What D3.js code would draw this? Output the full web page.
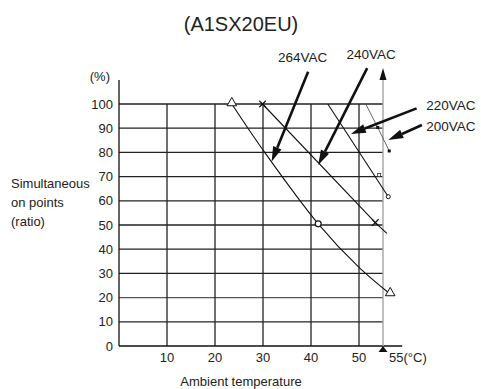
<!DOCTYPE html>
<html lang="en">
<head>
<meta charset="UTF-8">
<title>A1SX20EU derating</title>
<script src="https://d3js.org/d3.v7.min.js"></script>
<style>
  body { margin: 0; background: #fff; }
  svg text { font-family: "Liberation Sans", Arial, sans-serif; fill: #222; }
</style>
</head>
<body>
<svg id="chart" width="481" height="389"></svg>
<script>
// ---- data ----
const yTicks = [0, 10, 20, 30, 40, 50, 60, 70, 80, 90, 100];
const xTicks = [10, 20, 30, 40, 50];
const xEndLabel = "55(°C)";

// temperature (°C), ratio (%)
const v264 = [[23.5, 100], [30, 81], [41.5, 50.5], [50, 32.5], [56.5, 21.5]];
const v240 = [[29.9, 100], [53.4, 51], [55.8, 46.5]];
const v220 = [[43.5, 100], [56.1, 61.7]];
const v200 = [[51.4, 100], [53.9, 90.3], [56.3, 80.6]];
const extraMarks = [[54.2, 70.7]];

// call-outs: label, label pos, arrow start, arrow tip (data units)
const callouts = [
  { label: "264VAC", at: [33.1, 117.4], from: [39.4, 113.3], to: [31.8, 76.2] },
  { label: "240VAC", at: [47.4, 118.6], from: [51.7, 114.8], to: [41.5, 74.8] },
  { label: "220VAC", at: [64.0, 97.5], from: [62.0, 98.2], to: [48.3, 87.6] },
  { label: "200VAC", at: [64.0, 88.8], from: [63.1, 91.3], to: [56.1, 85.1] }
];

const svg = d3.select("#chart");
const x = d3.scaleLinear().domain([0, 55]).range([119, 383]);
const y = d3.scaleLinear().domain([0, 100]).range([346, 104]);

// title
svg.append("text").attr("x", 241).attr("y", 31).attr("text-anchor", "middle")
  .style("font-size", "20px").text("(A1SX20EU)");

// grid
svg.append("g").selectAll("line").data(yTicks.filter(d => d > 0)).join("line")
  .attr("x1", x(0)).attr("x2", x(55)).attr("y1", d => y(d)).attr("y2", d => y(d))
  .attr("stroke", d => d === 20 ? "#555" : "#222").attr("stroke-width", 1.3);
svg.append("g").selectAll("line").data(xTicks).join("line")
  .attr("x1", d => x(d)).attr("x2", d => x(d)).attr("y1", y(100)).attr("y2", y(0))
  .attr("stroke", "#222").attr("stroke-width", 1.3);

// axes
svg.append("line").attr("x1", x(0)).attr("x2", x(0)).attr("y1", 80).attr("y2", y(0))
  .attr("stroke", "#111").attr("stroke-width", 1.3);
svg.append("line").attr("x1", x(0)).attr("x2", x(59)).attr("y1", y(0)).attr("y2", y(0))
  .attr("stroke", "#111").attr("stroke-width", 1.3);
// 55 °C limit line with arrow
svg.append("line").attr("x1", x(55)).attr("x2", x(55)).attr("y1", 78).attr("y2", y(0))
  .attr("stroke", "#aaa").attr("stroke-width", 1.5);
svg.append("path")
  .attr("d", `M${x(55)},68 L${x(55) + 3.5},80 L${x(55) - 3.5},80 Z`).attr("fill", "#111");
svg.append("path")
  .attr("d", `M${x(55)},${y(0)} L${x(55) + 4.5},${y(0) + 6} L${x(55) - 4.5},${y(0) + 6} Z`).attr("fill", "#111");

// tick labels
svg.append("g").selectAll("text").data(yTicks).join("text")
  .attr("x", 113).attr("y", d => y(d)).attr("dy", "0.35em").attr("text-anchor", "end")
  .style("font-size", "13px").text(d => d);
svg.append("g").selectAll("text").data(xTicks).join("text")
  .attr("x", d => x(d)).attr("y", 362).attr("text-anchor", "middle")
  .style("font-size", "13px").text(d => d);
svg.append("text").attr("x", x(55) + 6).attr("y", 362)
  .style("font-size", "13px").text(xEndLabel);
svg.append("text").attr("x", 110).attr("y", 81).attr("text-anchor", "end")
  .style("font-size", "13px").text("(%)");
svg.append("text").attr("x", 241).attr("y", 386).attr("text-anchor", "middle")
  .style("font-size", "13px").text("Ambient temperature");
svg.append("text").style("font-size", "13px").selectAll("tspan")
  .data(["Simultaneous", "on points", "(ratio)"]).join("tspan")
  .attr("x", 11).attr("y", (d, i) => 188 + i * 19).text(d => d);

// curves
const line = d3.line().x(d => x(d[0])).y(d => y(d[1]));
svg.append("path").datum(v264).attr("d", line.curve(d3.curveCatmullRom)).attr("fill", "none")
  .attr("stroke", "#111").attr("stroke-width", 1.1);
svg.append("path").datum(v240).attr("d", d3.line().x(d => x(d[0])).y(d => y(d[1]))).attr("fill", "none")
  .attr("stroke", "#111").attr("stroke-width", 1.1);
svg.append("path").datum(v220).attr("d", d3.line().x(d => x(d[0])).y(d => y(d[1]))).attr("fill", "none")
  .attr("stroke", "#111").attr("stroke-width", 1.1);
svg.append("path").datum(v200).attr("d", d3.line().x(d => x(d[0])).y(d => y(d[1]))).attr("fill", "none")
  .attr("stroke", "#444").attr("stroke-width", 0.8);

// markers
const tri = d3.symbol().type(d3.symbolTriangle).size(40);
svg.append("g").selectAll("path").data([v264[0], v264[v264.length - 1]]).join("path")
  .attr("transform", d => `translate(${x(d[0])},${y(d[1]) - 1})`).attr("d", tri)
  .attr("fill", "#fff").attr("stroke", "#111").attr("stroke-width", 1);
svg.append("circle").attr("cx", x(v264[2][0])).attr("cy", y(v264[2][1])).attr("r", 3)
  .attr("fill", "#fff").attr("stroke", "#111").attr("stroke-width", 1.2);
const cross = d3.symbol().type(d3.symbolX).size(30);
svg.append("g").selectAll("path").data(v240.slice(0, 2)).join("path")
  .attr("transform", d => `translate(${x(d[0])},${y(d[1])})`).attr("d", cross)
  .attr("fill", "none").attr("stroke", "#111").attr("stroke-width", 1.2);
svg.append("circle").attr("cx", x(v220[1][0])).attr("cy", y(v220[1][1])).attr("r", 2)
  .attr("fill", "#fff").attr("stroke", "#111").attr("stroke-width", 1);
svg.append("g").selectAll("rect").data(v200.slice(1)).join("rect")
  .attr("x", d => x(d[0]) - 1.5).attr("y", d => y(d[1]) - 1.5).attr("width", 3).attr("height", 3)
  .attr("fill", "#111");
svg.append("g").selectAll("rect").data(extraMarks).join("rect")
  .attr("x", d => x(d[0]) - 1.5).attr("y", d => y(d[1]) - 1.5).attr("width", 3).attr("height", 3)
  .attr("fill", "#fff").attr("stroke", "#333").attr("stroke-width", 0.8);

// call-outs
callouts.forEach(c => {
  const x1 = x(c.from[0]), y1 = y(c.from[1]), x2 = x(c.to[0]), y2 = y(c.to[1]);
  const a = Math.atan2(y2 - y1, x2 - x1);
  const len = 15, half = 4.5;
  const bx = x2 - len * Math.cos(a), by = y2 - len * Math.sin(a);
  svg.append("line").attr("x1", x1).attr("y1", y1).attr("x2", bx).attr("y2", by)
    .attr("stroke", "#111").attr("stroke-width", 2.6);
  svg.append("path")
    .attr("d", `M${x2},${y2} L${bx - half * Math.sin(a)},${by + half * Math.cos(a)} L${bx + half * Math.sin(a)},${by - half * Math.cos(a)} Z`)
    .attr("fill", "#111");
  svg.append("text").attr("x", x(c.at[0])).attr("y", y(c.at[1]))
    .style("font-size", "13.5px").text(c.label);
});
</script>
</body>
</html>
